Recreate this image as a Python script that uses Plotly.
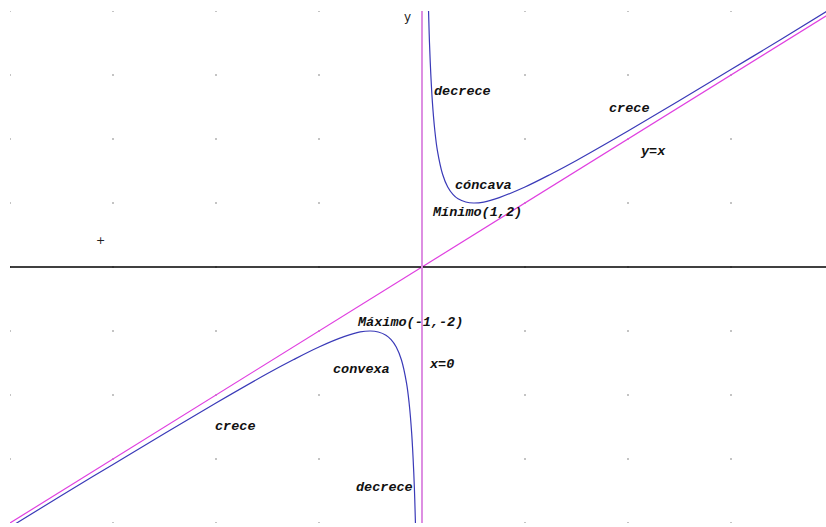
import plotly.graph_objects as go

# Points (right branch of the curve)
right_x = [0.125, 0.14, 0.16, 0.2, 0.25, 0.3, 0.4, 0.5, 0.6, 0.7, 0.85, 1.0, 1.2, 1.5, 2.0, 2.5, 3.0, 4.0, 5.0, 6.0, 7.0, 8.0]
right_y = [8.13, 7.28, 6.41, 5.2, 4.25, 3.63, 2.9, 2.5, 2.27, 2.13, 2.03, 2.0, 2.03, 2.17, 2.5, 2.9, 3.33, 4.25, 5.2, 6.17, 7.14, 8.13]
# Left branch of the curve
left_x = [-v for v in right_x]
left_y = [-v for v in right_y]

# Asymptotes
diag_x = [-8, 8]
diag_y = [-8, 8]

grid_vals = [-8, -6, -4, -2, 0, 2, 4, 6, 8]

labels = [
    ("decrece", 0.2, 5.5),
    ("crece", 3.6, 4.95),
    ("y=x", 4.2, 3.6),
    ("cóncava", 0.6, 2.55),
    ("Mínimo(1,2)", 0.15, 1.7),
    ("Máximo(-1,-2)", -1.3, -1.72),
    ("convexa", -1.77, -3.2),
    ("x=0", 0.1, -3.05),
    ("crece", -4.05, -4.98),
    ("decrece", -1.33, -6.9),
]

fig = go.Figure()

gx = [x for x in grid_vals for _ in grid_vals]
gy = [y for _ in grid_vals for y in grid_vals]
fig.add_trace(go.Scatter(x=gx, y=gy, mode="markers",
                         marker=dict(size=2, color="#b0b0b0"), hoverinfo="skip"))

fig.add_shape(type="line", x0=-8, x1=8, y0=0, y1=0, line=dict(color="black", width=1.5))
fig.add_shape(type="line", x0=0, x1=0, y0=-8, y1=8, line=dict(color="#dd8ee2", width=2))

fig.add_trace(go.Scatter(x=diag_x, y=diag_y, mode="lines",
                         line=dict(color="#e040e0", width=1.2), hoverinfo="skip"))
fig.add_trace(go.Scatter(x=right_x, y=right_y, mode="lines", line_shape="spline",
                         line=dict(color="#3a3ab8", width=1.2), hoverinfo="skip"))
fig.add_trace(go.Scatter(x=left_x, y=left_y, mode="lines", line_shape="spline",
                         line=dict(color="#3a3ab8", width=1.2), hoverinfo="skip"))

for txt, x, y in labels:
    fig.add_annotation(x=x, y=y, text="<b><i>" + txt + "</i></b>", showarrow=False,
                       xanchor="left", yanchor="middle",
                       font=dict(family="Liberation Mono", size=13.5, color="#111111"))

fig.add_annotation(x=-0.17, y=7.8, text="y", showarrow=False, xanchor="right", yanchor="middle",
                   font=dict(family="DejaVu Sans", size=12, color="#222222"))
fig.add_annotation(x=-6.25, y=0.82, text="+", showarrow=False, xanchor="center", yanchor="middle",
                   font=dict(family="DejaVu Sans", size=11, color="#222222"))

fig.update_layout(
    width=826, height=527,
    margin=dict(l=10, r=0, t=11, b=4),
    paper_bgcolor="white", plot_bgcolor="white",
    showlegend=False,
    xaxis=dict(range=[-8, 7.845], visible=False, fixedrange=True),
    yaxis=dict(range=[-8, 8], visible=False, fixedrange=True),
)

fig.write_html("out.html", config={"displayModeBar": False},
               post_script="document.body.style.margin='0px';document.body.style.overflow='hidden';")
